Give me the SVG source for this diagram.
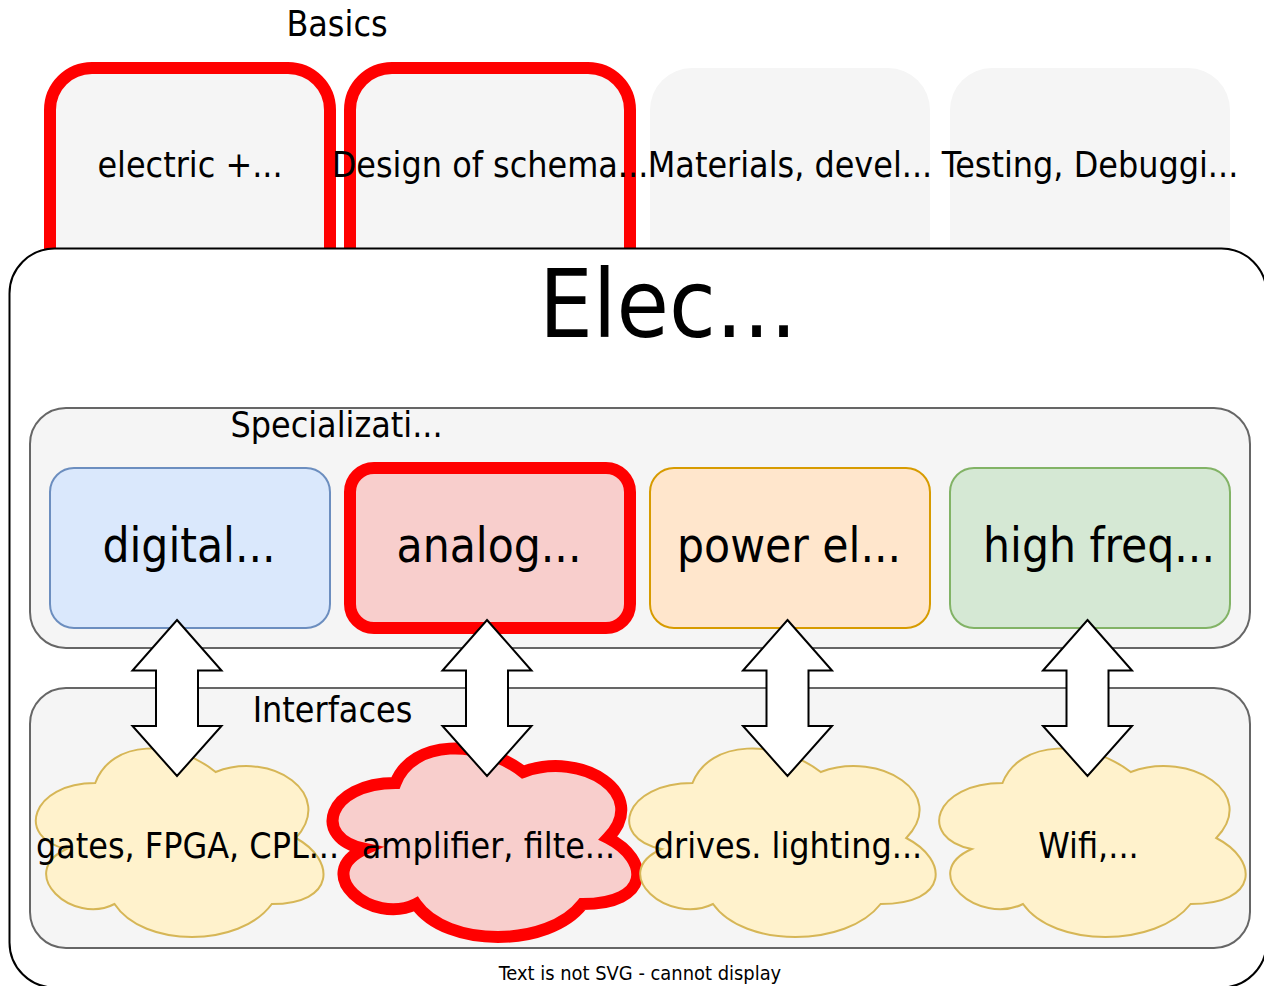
<svg xmlns="http://www.w3.org/2000/svg" width="1264" height="986" viewBox="0 0 1264 986">
<style>
text{font-family:"DejaVu Sans Condensed","DejaVu Sans","Liberation Sans",sans-serif;font-stretch:condensed;fill:#000;text-anchor:middle}
.t32{font-size:35.5px}
.t42{font-size:47.4px}
.basic{fill:#f5f5f5;stroke:none}
.hl{fill:#f5f5f5;stroke:#ff0000;stroke-width:12}
.cont{fill:#f5f5f5;stroke:#666666;stroke-width:2}
.cloud{fill:#fff2cc;stroke:#d6b656;stroke-width:2}
.arrow{fill:#ffffff;stroke:#000000;stroke-width:2;stroke-linejoin:miter}
</style>
<rect width="1264" height="986" fill="#ffffff"/>
<g id="basics-label"><text class="t32" x="337" y="36">Basics</text></g>
<g id="basic-electric"><rect class="hl" x="50" y="68" width="280" height="280" rx="42"/><text class="t32" x="190" y="177">electric +...</text></g>
<g id="basic-design"><rect class="hl" x="350" y="68" width="280" height="280" rx="42"/><text class="t32" x="490" y="177">Design of schema...</text></g>
<g id="basic-materials"><rect class="basic" x="650" y="68" width="280" height="280" rx="42"/><text class="t32" x="790" y="177">Materials, devel...</text></g>
<g id="basic-testing"><rect class="basic" x="950" y="68" width="280" height="280" rx="42"/><text class="t32" x="1090" y="177">Testing, Debuggi...</text></g>
<g id="elec-container"><rect x="9.5" y="248.5" width="1257" height="739" rx="45" fill="#ffffff" stroke="#000000" stroke-width="2"/><text x="668" y="337" style="font-size:94.8px">Elec...</text></g>
<g id="specialization"><rect class="cont" x="30" y="408" width="1220" height="240" rx="36"/><text class="t32" x="336.5" y="437">Specializati...</text></g>
<g id="spec-digital"><rect x="50" y="468" width="280" height="160" rx="24" fill="#dae8fc" stroke="#6c8ebf" stroke-width="2"/><text class="t42" x="189" y="562">digital...</text></g>
<g id="spec-analog"><rect x="350" y="468" width="280" height="160" rx="24" fill="#f8cecc" stroke="#ff0000" stroke-width="12"/><text class="t42" x="489" y="562">analog...</text></g>
<g id="spec-power"><rect x="650" y="468" width="280" height="160" rx="24" fill="#ffe6cc" stroke="#d79b00" stroke-width="2"/><text class="t42" x="789" y="562">power el...</text></g>
<g id="spec-highfreq"><rect x="950" y="468" width="280" height="160" rx="24" fill="#d5e8d4" stroke="#82b366" stroke-width="2"/><text class="t42" x="1099" y="562">high freq...</text></g>
<g id="interfaces"><rect class="cont" x="30" y="688" width="1220" height="260" rx="36"/><text class="t32" x="332.5" y="722">Interfaces</text></g>
<g id="if-digital"><path class="cloud" d="M95.25,783 C31.05,783 15,838 66.36,849 C15,873.2 72.78,926 114.51,904 C143.4,948 239.7,948 271.8,904 C336,904 336,860 295.88,838 C336,794 271.8,750 215.63,772 C175.5,739 111.3,739 95.25,783 Z"/><text class="t32" x="187.5" y="858">gates, FPGA, CPL...</text></g>
<g id="if-analog"><path d="M395.5,783 C327.5,783 310.5,838 364.9,849 C310.5,873.2 371.7,926 415.9,904 C446.5,948 548.5,948 582.5,904 C650.5,904 650.5,860 608,838 C650.5,794 582.5,750 523,772 C480.5,739 412.5,739 395.5,783 Z" fill="#f8cecc" stroke="#ff0000" stroke-width="12"/><text class="t32" x="488.5" y="858">amplifier, filte...</text></g>
<g id="if-power"><path class="cloud" d="M692.5,783 C624.1,783 607,838 661.72,849 C607,873.2 668.56,926 713.02,904 C743.8,948 846.4,948 880.6,904 C949,904 949,860 906.25,838 C949,794 880.6,750 820.75,772 C778,739 709.6,739 692.5,783 Z"/><text class="t32" x="788" y="858">drives. lighting...</text></g>
<g id="if-highfreq"><path class="cloud" d="M1002.5,783 C934.1,783 917,838 971.72,849 C917,873.2 978.56,926 1023.02,904 C1053.8,948 1156.4,948 1190.6,904 C1259,904 1259,860 1216.25,838 C1259,794 1190.6,750 1130.75,772 C1088,739 1019.6,739 1002.5,783 Z"/><text class="t32" x="1088.5" y="858">Wifi,...</text></g>
<g id="connectors">
<polygon class="arrow" points="177,620 221.5,670.5 198,670.5 198,726 221.5,726 177,776 132.5,726 156,726 156,670.5 132.5,670.5"/>
<polygon class="arrow" points="487,620 531.5,670.5 508,670.5 508,726 531.5,726 487,776 442.5,726 466,726 466,670.5 442.5,670.5"/>
<polygon class="arrow" points="787.5,620 832,670.5 808.5,670.5 808.5,726 832,726 787.5,776 743,726 766.5,726 766.5,670.5 743,670.5"/>
<polygon class="arrow" points="1087.5,620 1132,670.5 1108.5,670.5 1108.5,726 1132,726 1087.5,776 1043,726 1066.5,726 1066.5,670.5 1043,670.5"/>
</g>
<g id="fallback-note"><text x="640" y="980" style="font-size:19.9px">Text is not SVG - cannot display</text></g>
</svg>
